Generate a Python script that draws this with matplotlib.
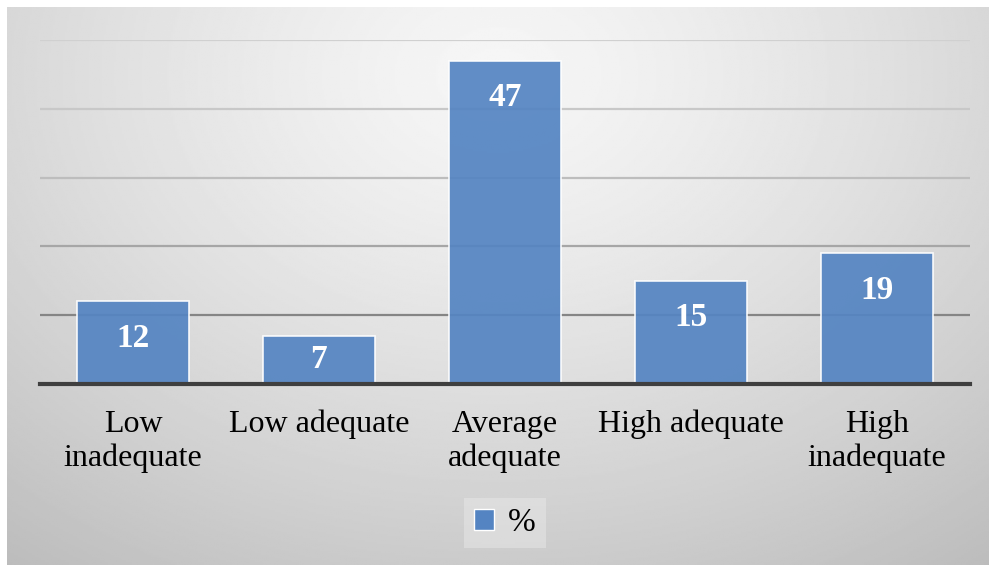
#!/usr/bin/env python3
"""Bar chart of adequacy categories (%), Excel-like styling."""
import numpy as np
import matplotlib.pyplot as plt
from matplotlib.patches import Patch

categories = ["Low\ninadequate", "Low adequate", "Average\nadequate", "High adequate", "High\ninadequate"]
values = [12, 7, 47, 15, 19]
series_name = "%"

bar_color = "#5484c2"
serif = ["Liberation Serif", "DejaVu Serif"]

fig = plt.figure(figsize=(9.89, 5.65), dpi=100)
fig.patch.set_facecolor("white")

# radial grey gradient background (inset a few px from top/left like the source)
bg = fig.add_axes([7 / 989, 0, 1 - 7 / 989, 1 - 7 / 565], zorder=-10)
yy, xx = np.mgrid[0:1:300j, 0:1:500j]
r = np.sqrt(((xx - 0.5) / 0.75) ** 2 + ((yy - 0.12) / 1.0) ** 2)
shade = np.clip(0.965 - 0.2 * r ** 1.3, 0, 1)
bg.imshow(shade, cmap="gray", vmin=0, vmax=1, aspect="auto", extent=[0, 1, 1, 0])
bg.axis("off")

ax = fig.add_axes([40 / 989, 181 / 565, 930 / 989, (384 - 40) / 565])
ax.patch.set_alpha(0)

x = np.arange(len(categories))
ax.bar(x, values, width=0.6, color=bar_color, edgecolor="white", linewidth=1.2,
       alpha=0.92, zorder=3)

ax.set_xlim(-0.5, len(categories) - 0.5)
ax.set_ylim(0, 50)
ax.set_yticks(range(0, 51, 10))
ax.set_axisbelow(True)
ax.yaxis.grid(True, linewidth=1.6)
# gridlines fade from darker near the axis to lighter at the top
grid_colors = ["#3f3f3f", "#858585", "#a6a6a6", "#bdbdbd", "#c8c8c8", "#d0d0d0"]
for gl, c in zip(ax.yaxis.get_gridlines(), grid_colors):
    gl.set_color(c)
ax.tick_params(axis="y", left=False, labelleft=False)
ax.tick_params(axis="x", bottom=False, pad=15)
for s in ["top", "right", "left"]:
    ax.spines[s].set_visible(False)
ax.spines["bottom"].set_color("#3f3f3f")
ax.spines["bottom"].set_linewidth(3)
ax.spines["bottom"].set_zorder(5)

ax.set_xticks(x)
ax.set_xticklabels(categories, fontsize=23, family=serif, linespacing=1.22, va="top")

for xi, v in zip(x, values):
    ypos = v - 5.4 if v >= 10 else v / 2
    ax.text(xi, ypos, str(v), ha="center", va="center", color="white",
            fontsize=24, fontweight="bold", family=serif, zorder=6)

leg = fig.legend(handles=[Patch(facecolor=bar_color, edgecolor="white", label=series_name)],
                 loc="center", bbox_to_anchor=(505 / 989, 1 - 523 / 565),
                 frameon=True, fancybox=False, prop={"family": serif, "size": 24},
                 handlelength=0.6, handleheight=0.6, handletextpad=0.4,
                 borderpad=0.3)
leg.get_frame().set_facecolor("#e8e8e8")
leg.get_frame().set_edgecolor("none")
leg.get_frame().set_alpha(0.5)

fig.savefig("out.png", dpi=100)
